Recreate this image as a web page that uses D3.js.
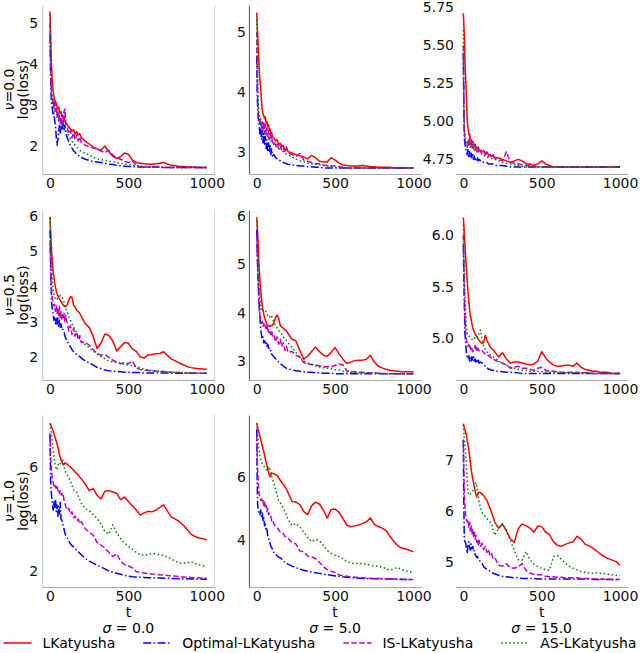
<!DOCTYPE html>
<html>
<head>
<meta charset="utf-8">
<script src="https://cdn.jsdelivr.net/npm/d3@7"></script>
<style>
  body { margin: 0; background: #fff; }
</style>
</head>
<body>
<script>
// iteration grid shared by every curve
const tGrid = [0,3,6,10,15,20,25,30,35,40,45,50,55,60,65,70,75,80,85,90,95,100,
  110,120,130,140,150,160,170,180,190,200,
  225,250,275,300,325,350,375,400,425,450,475,500,525,550,575,600,625,650,675,700,725,750,775,800,825,850,875,900,925,950,975,1000];

const sigmaLabels = ["0.0", "5.0", "15.0"];
const nuLabels = ["0.0", "0.5", "1.0"];
const methodNames = ["LKatyusha", "Optimal-LKatyusha", "IS-LKatyusha", "AS-LKatyusha"];
const xTickValues = [0, 500, 1000];
const yTickValues = [[2,3,4,5],[3,4,5],[4.75,5,5.25,5.5,5.75],
                     [2,3,4,5,6],[3,4,5,6],[5,5.5,6],
                     [2,4,6],[4,6],[5,6,7]];
const yTickFormats = ["d","d",".2f","d","d",".1f","d","d","d"];
const yLimits = [[1.32,5.43],[2.628,5.445],[4.654,5.764],
                 [1.36,6.17],[2.61,6.12],[4.596,6.242],
                 [1.38,8.02],[2.52,7.95],[4.50,7.89]];

// nu = 0.0, sigma = 0.0
const LK_00 = [5.27,4.8,4.34,3.9,3.52,3.35,3.2,3.12,3.02,3.05,2.94,2.9,2.95,2.82,2.8,2.84,2.72,2.75,2.67,2.72,2.6,2.58,
  2.52,2.46,2.42,2.36,2.4,2.3,2.35,2.27,2.3,2.2,
  2.12,2.05,1.98,1.93,1.9,2.0,1.86,1.75, 1.7,1.74,1.83,1.8,1.66,1.6,1.58,1.57, 1.56,1.56,1.57,1.58,1.6,1.56,1.53,1.52, 1.5,1.5,1.49,1.49,1.49,1.48,1.48,1.48];
const OPT_00 = [4.7,3.8,3.3,3.0,2.9,2.75,2.8,2.6,2.5,2.2,2.02,2.15,2.35,2.5,2.3,2.45,2.55,2.42,2.58,2.4,2.5,2.3,
  2.2,2.1,2.0,1.95,1.88,1.85,1.8,1.78,1.75,1.72,
  1.68,1.65,1.62,1.61,1.6,1.58,1.56,1.55, 1.53,1.52,1.51,1.5,1.5,1.49,1.49,1.49, 1.49,1.49,1.49,1.49,1.48,1.48,1.48,1.48, 1.48,1.48,1.48,1.48,1.48,1.48,1.48,1.48];
const IS_00 = [5.0,4.2,3.6,3.2,3.05,3.15,2.9,3.1,2.85,2.95,2.7,2.85,2.6,2.75,2.55,2.7,2.5,2.75,2.6,2.85,2.9,2.55,
  2.45,2.3,2.38,2.2,2.32,2.15,2.28,2.12,2.22,2.08,
  2.02,1.98,1.95,1.93,1.88,1.84,1.9,1.78, 1.72,1.68,1.63,1.6,1.64,1.53,1.5,1.49, 1.49,1.49,1.49,1.49,1.48,1.48,1.48,1.48, 1.48,1.48,1.48,1.48,1.48,1.48,1.48,1.48];
const AS_00 = [5.2,4.5,3.9,3.4,3.1,2.95,2.9,2.85,2.82,2.78,2.75,2.72,2.7,2.66,2.63,2.62,2.6,2.57,2.55,2.52,2.46,2.42,
  2.35,2.25,2.18,2.12,2.07,2.02,1.98,1.94,1.9,1.87,
  1.82,1.78,1.73,1.69,1.67,1.65,1.63,1.62, 1.6,1.58,1.56,1.55,1.54,1.52,1.51,1.5, 1.49,1.49,1.49,1.49,1.49,1.48,1.48,1.48, 1.48,1.48,1.48,1.48,1.48,1.48,1.48,1.48];

// nu = 0.0, sigma = 5.0
const LK_01 = [5.32,5.1,4.96,4.7,4.42,4.2,4.08,3.85,3.7,3.63,3.6,3.55,3.58,3.47,3.5,3.42,3.45,3.35,3.38,3.3,3.32,3.25,
  3.22,3.18,3.2,3.12,3.14,3.08,3.1,3.03,3.05,3.0,
  2.98,2.95,2.93,2.91,2.88,2.94,2.9,2.84, 2.83,2.83,2.9,2.86,2.81,2.78,2.77,2.76, 2.76,2.76,2.77,2.76,2.75,2.75,2.74,2.74, 2.74,2.74,2.73,2.73,2.73,2.73,2.73,2.73];
const OPT_01 = [4.6,4.0,3.7,3.55,3.45,3.3,3.4,3.2,3.35,3.15,3.3,3.1,3.25,3.05,3.2,3.0,3.15,2.98,3.1,2.95,3.05,2.93,
  2.95,2.9,2.88,2.86,2.85,2.83,2.82,2.81,2.8,2.79,
  2.78,2.77,2.76,2.76,2.75,2.75,2.74,2.74, 2.73,2.73,2.73,2.73,2.73,2.73,2.73,2.73, 2.73,2.73,2.73,2.73,2.73,2.73,2.73,2.73, 2.73,2.73,2.73,2.73,2.73,2.73,2.73,2.73];
const IS_01 = [5.0,4.4,3.9,3.65,3.55,3.45,3.55,3.4,3.5,3.35,3.5,3.3,3.45,3.3,3.4,3.25,3.35,3.2,3.3,3.2,3.28,3.15,
  3.18,3.1,3.15,3.05,3.1,3.02,3.05,3.0,3.08,2.98,
  2.95,2.92,2.97,2.86,2.84,2.82,2.8,2.8, 2.78,2.77,2.76,2.76,2.75,2.74,2.73,2.73, 2.73,2.73,2.73,2.73,2.73,2.73,2.73,2.73, 2.73,2.73,2.73,2.73,2.73,2.73,2.73,2.73];
const AS_01 = [5.2,4.6,4.1,3.8,3.6,3.5,3.45,3.42,3.38,3.36,3.35,3.33,3.3,3.28,3.27,3.25,3.24,3.22,3.2,3.18,3.17,3.15,
  3.12,3.1,3.08,3.06,3.04,3.02,3.0,2.98,2.96,2.95,
  2.91,2.88,2.85,2.83,2.81,2.8,2.79,2.78, 2.77,2.76,2.75,2.74,2.73,2.73,2.73,2.73, 2.73,2.73,2.73,2.73,2.73,2.73,2.73,2.73, 2.73,2.73,2.73,2.73,2.73,2.73,2.73,2.73];

// nu = 0.0, sigma = 15.0
const LK_02 = [5.71,5.64,5.57,5.42,5.28,5.14,5.0,4.95,4.92,4.9,4.88,4.88,4.86,4.87,4.85,4.84,4.85,4.83,4.83,4.82,4.83,4.81,
  4.81,4.8,4.81,4.79,4.8,4.78,4.78,4.77,4.78,4.76,
  4.76,4.75,4.74,4.73,4.74,4.75,4.74,4.72, 4.72,4.71,4.72,4.74,4.72,4.71,4.7,4.7, 4.7,4.7,4.7,4.7,4.7,4.7,4.7,4.7, 4.7,4.7,4.7,4.7,4.7,4.7,4.7,4.7];
const OPT_02 = [5.45,5.1,4.9,4.85,4.82,4.8,4.78,4.82,4.77,4.8,4.76,4.79,4.76,4.78,4.75,4.77,4.75,4.76,4.74,4.76,4.74,4.75,
  4.74,4.74,4.73,4.73,4.73,4.72,4.72,4.72,4.72,4.71,
  4.71,4.71,4.705,4.7,4.7,4.7,4.7,4.7, 4.7,4.7,4.7,4.7,4.7,4.7,4.7,4.7, 4.7,4.7,4.7,4.7,4.7,4.7,4.7,4.7, 4.7,4.7,4.7,4.7,4.7,4.7,4.7,4.7];
const IS_02 = [5.5,5.1,4.95,4.88,4.85,4.86,4.83,4.87,4.84,4.92,4.84,4.86,4.82,4.85,4.82,4.84,4.81,4.83,4.8,4.82,4.8,4.81,
  4.8,4.79,4.8,4.78,4.79,4.77,4.78,4.76,4.77,4.76,
  4.75,4.74,4.8,4.73,4.725,4.72,4.715,4.71, 4.71,4.705,4.7,4.7,4.7,4.7,4.7,4.7, 4.7,4.7,4.7,4.7,4.7,4.7,4.7,4.7, 4.7,4.7,4.7,4.7,4.7,4.7,4.7,4.7];
const AS_02 = [5.6,5.2,5.0,4.92,4.88,4.86,4.85,4.86,4.84,4.85,4.83,4.84,4.83,4.83,4.82,4.82,4.81,4.81,4.8,4.8,4.8,4.8,
  4.79,4.78,4.78,4.77,4.77,4.76,4.76,4.755,4.75,4.75,
  4.74,4.73,4.725,4.72,4.715,4.71,4.705,4.7, 4.7,4.7,4.7,4.7,4.7,4.7,4.7,4.7, 4.7,4.7,4.7,4.7,4.7,4.7,4.7,4.7, 4.7,4.7,4.7,4.7,4.7,4.7,4.7,4.7];

// nu = 0.5, sigma = 0.0
const LK_10 = [5.98,5.62,5.35,5.0,4.7,4.42,4.25,4.1,3.98,3.88,3.8,3.74,3.7,3.65,3.62,3.58,3.55,3.5,3.48,3.46,3.44,3.43,
  3.5,3.62,3.72,3.7,3.48,3.42,3.34,3.3,3.25,3.15,
  2.95,2.85,2.6,2.25,2.4,2.66,2.62,2.47, 2.18,2.3,2.42,2.4,2.24,2.17,2.02,1.98, 2.07,2.08,2.1,2.11,2.16,2.05,1.95,1.9, 1.84,1.79,1.74,1.71,1.69,1.68,1.67,1.66];
const OPT_10 = [5.6,4.9,4.2,3.55,3.35,3.2,3.05,3.15,2.95,3.1,2.9,3.12,2.88,3.05,2.85,2.95,2.8,2.82,2.72,2.7,2.6,2.55,
  2.45,2.38,2.3,2.22,2.16,2.12,2.08,2.05,2.02,1.98,
  1.9,1.84,1.79,1.72,1.68,1.64,1.62,1.61, 1.6,1.59,1.58,1.58,1.57,1.57,1.57,1.56, 1.56,1.56,1.56,1.56,1.56,1.56,1.55,1.55, 1.55,1.55,1.55,1.55,1.55,1.55,1.55,1.55];
const IS_10 = [5.3,4.7,4.2,3.85,3.65,3.55,3.45,3.5,3.3,3.45,3.25,3.4,3.15,3.45,3.1,3.3,3.05,3.2,3.1,3.25,3.0,3.2,
  2.95,2.75,2.9,2.65,2.82,2.6,2.72,2.5,2.62,2.42,
  2.42,2.35,2.22,2.12,2.06,2.08,2.0,1.92, 1.87,1.82,1.85,1.82,1.9,1.7,1.66,1.64, 1.63,1.62,1.61,1.6,1.6,1.59,1.58,1.58, 1.57,1.56,1.56,1.56,1.55,1.55,1.55,1.55];
const AS_10 = [5.95,5.5,5.04,4.6,4.19,3.9,3.75,3.7,3.65,3.62,3.65,3.68,3.7,3.72,3.75,3.72,3.7,3.68,3.62,3.55,3.45,3.38,
  3.28,3.15,3.05,2.95,2.87,2.78,2.68,2.6,2.52,2.46,
  2.36,2.27,2.18,2.1,2.02,1.96,1.9,1.87, 1.85,1.83,1.8,1.78,1.76,1.74,1.7,1.67, 1.65,1.63,1.62,1.61,1.6,1.59,1.58,1.58, 1.57,1.57,1.56,1.56,1.56,1.55,1.55,1.55];

// nu = 0.5, sigma = 5.0
const LK_11 = [5.97,5.8,5.64,5.35,4.95,4.7,4.48,4.3,4.15,4.05,3.97,3.9,3.85,3.8,3.76,3.74,3.73,3.72,3.72,3.73,3.74,3.74,
  3.8,3.9,3.95,3.88,3.74,3.7,3.68,3.65,3.62,3.57,
  3.45,3.42,3.22,3.04,3.1,3.2,3.29,3.2, 3.12,3.1,3.18,3.28,3.15,3.04,2.95,2.98, 3.01,3.02,3.02,3.04,3.12,2.98,2.9,2.86, 2.83,2.81,2.8,2.79,2.78,2.78,2.78,2.78];
const OPT_11 = [5.7,5.3,4.95,4.6,4.26,3.95,3.65,3.55,3.45,3.5,3.38,3.42,3.35,3.38,3.3,3.35,3.28,3.25,3.2,3.22,3.15,3.12,
  3.09,3.05,3.02,2.98,2.95,2.92,2.9,2.87,2.85,2.84,
  2.82,2.8,2.79,2.78,2.77,2.77,2.76,2.76, 2.75,2.75,2.75,2.74,2.74,2.74,2.74,2.74, 2.74,2.74,2.74,2.74,2.74,2.74,2.74,2.74, 2.74,2.74,2.74,2.74,2.74,2.74,2.74,2.74];
const IS_11 = [5.6,5.2,4.95,4.5,4.12,3.95,3.85,3.78,3.82,3.72,3.78,3.7,3.74,3.65,3.72,3.6,3.65,3.55,3.6,3.55,3.62,3.52,
  3.55,3.4,3.5,3.35,3.45,3.3,3.38,3.22,3.3,3.18,
  3.2,3.12,3.08,2.97,2.94,2.93,2.92,2.9, 2.88,2.89,2.88,2.91,2.94,2.92,2.8,2.78, 2.78,2.77,2.77,2.76,2.76,2.76,2.75,2.75, 2.74,2.74,2.74,2.74,2.74,2.74,2.74,2.74];
const AS_11 = [5.9,5.6,5.3,4.95,4.54,4.3,4.12,4.05,4.02,4.03,4.05,4.06,4.05,4.0,3.98,3.94,3.92,3.9,3.93,3.95,3.93,3.88,
  3.8,3.72,3.68,3.63,3.6,3.55,3.5,3.46,3.42,3.38,
  3.28,3.18,3.08,3.0,2.96,2.93,2.9,2.88, 2.86,2.85,2.84,2.82,2.81,2.79,2.78,2.77, 2.77,2.76,2.76,2.76,2.75,2.75,2.75,2.74, 2.74,2.74,2.74,2.74,2.74,2.74,2.74,2.74];

// nu = 0.5, sigma = 15.0
const LK_12 = [6.17,6.1,6.02,5.92,5.78,5.66,5.55,5.45,5.36,5.28,5.22,5.18,5.14,5.1,5.08,5.06,5.04,5.03,5.02,5.0,4.99,4.98,
  4.96,4.95,4.96,5.03,4.98,4.95,4.92,4.9,4.89,4.87,
  4.82,4.86,4.8,4.76,4.77,4.77,4.76,4.75, 4.74,4.75,4.78,4.87,4.81,4.77,4.74,4.73, 4.73,4.74,4.74,4.73,4.76,4.72,4.7,4.69, 4.68,4.68,4.67,4.67,4.67,4.66,4.66,4.66];
const OPT_12 = [5.9,5.6,5.35,5.05,4.95,4.85,4.82,4.8,4.83,4.78,4.81,4.78,4.82,4.79,4.82,4.78,4.8,4.77,4.79,4.77,4.8,4.76,
  4.77,4.76,4.75,4.73,4.72,4.7,4.7,4.69,4.69,4.68,
  4.68,4.675,4.67,4.67,4.67,4.665,4.66,4.66, 4.66,4.66,4.66,4.66,4.66,4.66,4.66,4.66, 4.66,4.66,4.66,4.66,4.66,4.66,4.66,4.66, 4.66,4.66,4.66,4.66,4.66,4.66,4.66,4.66];
const IS_12 = [6.0,5.7,5.5,5.2,5.05,4.98,4.95,4.92,4.94,4.9,4.92,4.88,4.9,4.87,4.89,4.9,4.93,4.88,4.91,4.87,4.9,4.88,
  4.87,4.88,4.86,4.85,4.85,4.83,4.82,4.81,4.81,4.79,
  4.77,4.76,4.74,4.71,4.72,4.73,4.71,4.71, 4.7,4.69,4.71,4.72,4.69,4.68,4.68,4.675, 4.67,4.67,4.67,4.67,4.67,4.665,4.665,4.665, 4.66,4.66,4.66,4.66,4.66,4.66,4.66,4.66];
const AS_12 = [6.1,5.85,5.69,5.45,5.25,5.1,5.05,5.03,5.02,5.02,5.01,5.0,4.99,4.98,4.99,5.0,5.01,5.02,5.02,5.01,5.03,5.05,
  5.08,4.98,4.92,4.89,4.87,4.85,4.84,4.83,4.82,4.81,
  4.78,4.76,4.74,4.72,4.71,4.7,4.69,4.69, 4.68,4.68,4.68,4.675,4.67,4.67,4.67,4.67, 4.665,4.665,4.665,4.665,4.665,4.665,4.665,4.665, 4.66,4.66,4.66,4.66,4.66,4.66,4.66,4.66];

// nu = 1.0, sigma = 0.0
const LK_20 = [7.7,7.66,7.62,7.56,7.48,7.4,7.3,7.2,7.1,7.0,6.9,6.78,6.65,6.5,6.4,6.3,6.22,6.15,6.09,6.12,6.18,6.15,
  6.12,6.05,6.02,5.95,5.9,5.82,5.76,5.7,5.62,5.55,
  5.35,5.1,5.18,4.92,4.78,5.08,5.1,5.05, 5.0,4.75,4.85,4.68,4.52,4.35,4.16,4.24, 4.3,4.28,4.35,4.45,4.55,4.3,4.08,4.0, 3.9,3.77,3.6,3.42,3.33,3.27,3.24,3.2];
const OPT_20 = [7.3,5.6,5.2,4.9,4.6,4.35,4.7,4.45,4.75,4.3,4.55,4.1,4.5,4.2,4.65,4.0,3.97,3.85,3.71,3.6,3.45,3.38,
  3.28,3.15,3.05,2.98,2.93,2.85,2.8,2.74,2.68,2.62,
  2.48,2.38,2.3,2.22,2.15,2.08,2.0,1.95, 1.91,1.87,1.83,1.8,1.78,1.77,1.76,1.75, 1.74,1.74,1.73,1.73,1.72,1.72,1.71,1.71, 1.7,1.7,1.7,1.69,1.69,1.69,1.68,1.68];
const IS_20 = [7.3,6.6,6.15,5.8,5.55,5.4,5.3,5.2,5.3,5.15,5.25,5.1,5.15,5.0,5.1,4.95,5.0,4.85,4.9,4.7,4.6,4.5,
  4.35,4.42,4.2,4.28,4.05,4.12,3.95,4.0,3.82,3.9,
  3.62,3.5,3.38,3.1,3.0,2.88,2.72,2.56, 2.66,2.38,2.25,2.2,2.12,1.98,1.95,1.92, 1.9,1.88,1.87,1.85,1.84,1.82,1.81,1.8, 1.78,1.77,1.76,1.75,1.74,1.73,1.73,1.72];
const AS_20 = [7.7,7.55,7.4,7.2,6.95,6.7,6.45,6.2,6.05,5.95,5.9,6.05,6.15,6.1,6.15,6.25,6.35,6.3,6.15,6.0,5.88,5.8,
  5.7,5.6,5.48,5.3,5.13,5.1,5.06,4.9,4.75,4.62,
  4.4,4.33,4.18,4.02,3.82,3.52,3.42,3.78, 3.48,3.25,3.08,2.95,2.84,2.72,2.62,2.62, 2.63,2.67,2.66,2.63,2.6,2.54,2.46,2.38, 2.31,2.3,2.31,2.36,2.28,2.24,2.2,2.17];

// nu = 1.0, sigma = 5.0
const LK_21 = [7.68,7.62,7.56,7.48,7.38,7.28,7.18,7.08,6.98,6.88,6.8,6.68,6.56,6.44,6.35,6.25,6.15,6.06,6.0,6.05,6.12,6.1,
  6.1,6.06,6.04,5.96,5.89,5.82,5.76,5.68,5.6,5.5,
  5.22,5.2,5.12,4.9,4.8,5.08,5.2,5.14, 4.95,4.7,4.97,4.98,4.88,4.68,4.47,4.42, 4.45,4.48,4.52,4.58,4.7,4.5,4.43,4.38, 4.3,4.12,3.96,3.82,3.75,3.72,3.68,3.63];
const OPT_21 = [7.5,5.8,5.1,4.95,4.85,4.8,4.95,4.75,4.85,4.6,4.7,4.45,4.5,4.3,4.35,4.15,4.1,3.95,3.9,3.8,3.78,3.7,
  3.6,3.56,3.5,3.46,3.44,3.4,3.35,3.3,3.27,3.24,
  3.18,3.13,3.08,3.05,3.02,2.99,2.97,2.95, 2.93,2.91,2.89,2.87,2.86,2.84,2.83,2.82, 2.81,2.8,2.79,2.79,2.78,2.78,2.78,2.77, 2.77,2.77,2.77,2.76,2.76,2.76,2.76,2.76];
const IS_21 = [7.3,6.7,6.2,5.8,5.47,5.35,5.26,5.3,5.2,5.25,5.1,5.2,5.0,5.1,4.9,5.0,4.8,4.85,4.74,4.75,4.62,4.65,
  4.5,4.45,4.4,4.32,4.26,4.25,4.2,4.12,4.08,4.05,
  3.93,3.88,3.66,3.63,3.5,3.47,3.42,3.3, 3.16,3.07,3.02,2.97,2.9,2.88,2.86,2.84, 2.83,2.82,2.81,2.8,2.8,2.79,2.79,2.79, 2.78,2.78,2.77,2.77,2.77,2.76,2.76,2.76];
const AS_21 = [7.7,7.5,7.3,7.08,6.85,6.65,6.55,6.48,6.42,6.38,6.35,6.3,6.25,6.22,6.2,6.22,6.28,6.32,6.2,6.1,6.02,5.95,
  5.78,5.62,5.42,5.25,5.18,5.11,5.0,4.9,4.78,4.65,
  4.46,4.53,4.42,4.25,4.08,3.95,4.02,3.98, 3.84,3.67,3.58,3.52,3.48,3.42,3.32,3.28, 3.26,3.26,3.26,3.24,3.21,3.19,3.17,3.15, 3.1,3.05,3.1,3.13,3.07,3.03,3.0,2.97];

// nu = 1.0, sigma = 15.0
const LK_22 = [7.72,7.68,7.64,7.6,7.54,7.48,7.38,7.3,7.2,7.08,6.95,6.82,6.72,6.63,6.56,6.48,6.4,6.33,6.28,6.32,6.34,6.37,
  6.36,6.33,6.3,6.25,6.21,6.13,6.05,5.97,5.89,5.78,
  5.66,5.74,5.6,5.45,5.38,5.65,5.74,5.71, 5.66,5.58,5.7,5.69,5.58,5.53,5.39,5.32, 5.3,5.34,5.37,5.39,5.5,5.45,5.35,5.31, 5.27,5.21,5.15,5.1,5.06,5.03,5.0,4.93];
const OPT_22 = [7.4,6.2,5.43,5.4,5.36,5.25,5.16,5.35,5.39,5.28,5.23,5.35,5.25,5.3,5.2,5.22,5.14,5.12,5.08,5.1,5.07,5.03,
  5.0,4.96,4.9,4.87,4.85,4.84,4.81,4.79,4.77,4.76,
  4.73,4.71,4.7,4.69,4.68,4.68,4.67,4.67, 4.67,4.67,4.66,4.66,4.66,4.66,4.66,4.66, 4.66,4.66,4.66,4.66,4.66,4.66,4.66,4.66, 4.65,4.65,4.65,4.65,4.65,4.65,4.65,4.65];
const IS_22 = [7.4,6.8,6.34,6.1,5.9,5.82,5.78,5.82,5.68,5.78,5.6,5.7,5.55,5.65,5.5,5.58,5.45,5.52,5.38,5.45,5.33,5.42,
  5.3,5.36,5.24,5.3,5.18,5.24,5.12,5.16,5.06,5.08,
  4.93,4.91,4.96,4.88,4.87,4.9,4.96,4.83, 4.77,4.75,4.74,4.74,4.71,4.7,4.7,4.69, 4.69,4.68,4.68,4.68,4.68,4.67,4.67,4.67, 4.66,4.66,4.66,4.66,4.66,4.65,4.65,4.65];
const AS_22 = [7.7,7.55,7.4,7.33,7.1,6.87,6.6,6.38,6.32,6.31,6.33,6.36,6.38,6.4,6.43,6.46,6.5,6.56,6.5,6.4,6.3,6.18,
  6.05,5.97,5.93,5.89,5.85,5.82,5.78,5.75,5.62,5.52,
  5.66,5.75,5.63,5.42,5.22,5.04,5.03,5.2, 5.04,4.95,4.9,4.87,4.84,4.83,5.1,5.12, 5.05,4.97,4.91,4.87,4.84,4.81,4.79,4.78, 4.77,4.78,4.77,4.76,4.75,4.74,4.73,4.72];

// panel table, row-major (nu rows, sigma columns)
const panelSeries = [
  [LK_00, OPT_00, IS_00, AS_00], [LK_01, OPT_01, IS_01, AS_01], [LK_02, OPT_02, IS_02, AS_02],
  [LK_10, OPT_10, IS_10, AS_10], [LK_11, OPT_11, IS_11, AS_11], [LK_12, OPT_12, IS_12, AS_12],
  [LK_20, OPT_20, IS_20, AS_20], [LK_21, OPT_21, IS_21, AS_21], [LK_22, OPT_22, IS_22, AS_22]
];

// styles and layout
const methodColors = ["#ff0000", "#0000ff", "#bf00bf", "#008000"];
const methodDashes = [null, "8,2.4,1.5,2.4", "5.5,2.4", "1.5,2.5"];
const lineW = 1.5;
const FONT = "'DejaVu Sans', sans-serif";

const svgWidth = 640, svgHeight = 653;
const colLeft = [42.2, 248.9, 455.5];
const plotW = 172.4;
const rowTop = [5, 210, 415];
const rowBottom = [174, 380, 587];
const yLabelPad = [4, 3, 1.5];
const leftSpineColor = ["#c4c4c4", "#555555", "none"];

const svg = d3.select("body").append("svg")
  .attr("width", svgWidth)
  .attr("height", svgHeight)
  .style("font-family", FONT);

for (let r = 0; r < 3; r++) {
  for (let c = 0; c < 3; c++) {
    const k = r * 3 + c;
    const g = svg.append("g");
    const x = d3.scaleLinear().domain([-50, 1050]).range([colLeft[c], colLeft[c] + plotW]);
    const y = d3.scaleLinear().domain(yLimits[k]).range([rowBottom[r], rowTop[r]]);

    const line = d3.line()
      .x((d, i) => x(tGrid[i]))
      .y(d => y(d));

    panelSeries[k].forEach((vals, s) => {
      g.append("path")
        .attr("d", line(vals))
        .attr("fill", "none")
        .attr("stroke", methodColors[s])
        .attr("stroke-width", lineW)
        .attr("stroke-linejoin", "round")
        .attr("stroke-dasharray", methodDashes[s]);
    });

    // x axis
    const xa = g.append("g")
      .attr("transform", `translate(0,${rowBottom[r]})`)
      .call(d3.axisBottom(x).tickValues(xTickValues).tickSize(0).tickPadding(4).tickFormat(d3.format("d")));
    xa.attr("font-size", 14).attr("font-family", FONT);
    xa.select(".domain").attr("stroke", "#a8a8a8");
    xa.selectAll("text").attr("fill", "#111");

    // y axis
    const ya = g.append("g")
      .attr("transform", `translate(${colLeft[c]},0)`)
      .call(d3.axisLeft(y).tickValues(yTickValues[k]).tickSize(0).tickPadding(yLabelPad[c])
        .tickFormat(d3.format(yTickFormats[k])));
    ya.attr("font-size", 14).attr("font-family", FONT);
    ya.select(".domain").attr("stroke", leftSpineColor[c]);
    ya.selectAll("text").attr("fill", "#111");

    if (c === 0) {
      g.append("line")
        .attr("x1", colLeft[0] + plotW).attr("x2", colLeft[0] + plotW)
        .attr("y1", rowTop[r]).attr("y2", rowBottom[r])
        .attr("stroke", "#d4d4d4");
    }
  }
}

// row labels
nuLabels.forEach((nu, r) => {
  const cy = (rowTop[r] + rowBottom[r]) / 2;
  const t1 = svg.append("text")
    .attr("transform", `translate(13.5,${cy}) rotate(-90)`)
    .attr("text-anchor", "middle")
    .attr("font-size", 14);
  t1.append("tspan").attr("font-style", "italic").text("ν");
  t1.append("tspan").text("=" + nu);
  svg.append("text")
    .attr("transform", `translate(27.5,${cy}) rotate(-90)`)
    .attr("text-anchor", "middle")
    .attr("font-size", 14)
    .text("log(loss)");
});

// column labels
sigmaLabels.forEach((sg, c) => {
  const cx = colLeft[c] + plotW / 2;
  svg.append("text")
    .attr("x", cx).attr("y", 617)
    .attr("text-anchor", "middle")
    .attr("font-size", 14)
    .text("t");
  const t2 = svg.append("text")
    .attr("x", cx).attr("y", 633)
    .attr("text-anchor", "middle")
    .attr("font-size", 14);
  t2.append("tspan").attr("font-style", "italic").text("σ");
  t2.append("tspan").text(" = " + sg);
});

// legend
const legend = svg.append("g");
let lx = 0;
methodNames.forEach((name, s) => {
  legend.append("line")
    .attr("x1", lx).attr("x2", lx + 28)
    .attr("y1", 643).attr("y2", 643)
    .attr("stroke", methodColors[s])
    .attr("stroke-width", lineW)
    .attr("stroke-dasharray", methodDashes[s]);
  const txt = legend.append("text")
    .attr("x", lx + 39).attr("y", 648)
    .attr("font-size", 14)
    .text(name);
  lx += 39 + txt.node().getComputedTextLength() + 28;
});
const legendW = lx - 28;
legend.attr("transform", `translate(${(svgWidth - legendW) / 2},0)`);
</script>
</body>
</html>
